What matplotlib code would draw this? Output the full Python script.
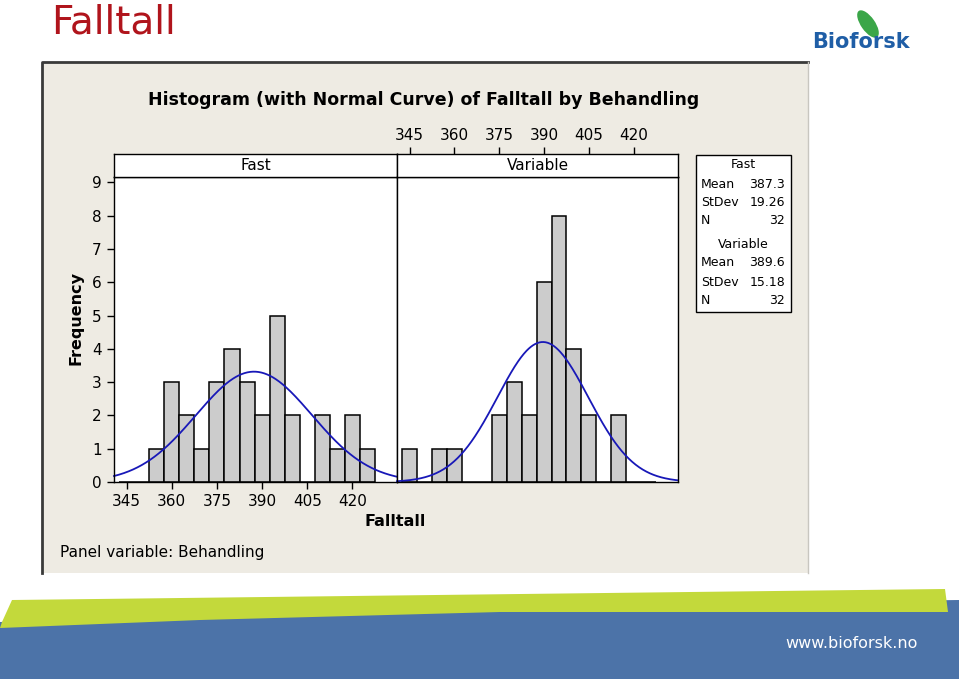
import numpy as np
import matplotlib
matplotlib.use("Agg")
import matplotlib.pyplot as plt
from matplotlib import font_manager
from matplotlib.patches import Rectangle, Polygon, Ellipse

# ---- data ----
bin_centers = [345, 350, 355, 360, 365, 370, 375, 380, 385, 390, 395, 400, 405, 410, 415, 420, 425]
fast_counts = [0, 0, 1, 3, 2, 1, 3, 4, 3, 2, 5, 2, 0, 2, 1, 2, 1]
var_counts = [1, 0, 1, 1, 0, 0, 2, 3, 2, 6, 8, 4, 2, 0, 2, 0, 0]
panels = ["Fast", "Variable"]
means = [387.3, 389.6]
stdevs = [19.26, 15.18]
ns = [32, 32]
x_ticks = [345, 360, 375, 390, 405, 420]
y_ticks = [0, 1, 2, 3, 4, 5, 6, 7, 8, 9]
bin_width = 5

plt.rcParams['font.family'] = ['DejaVu Sans']

W, H = 959, 679
fig = plt.figure(figsize=(W / 100, H / 100), dpi=100)
fig.patch.set_facecolor('white')


def fx(x):
    return x / W


def fy(y):
    return 1 - y / H


def box(x0, y0, x1, y1):
    return [fx(x0), fy(y1), fx(x1) - fx(x0), fy(y0) - fy(y1)]


# ---- slide decorations ----
bg = fig.add_axes([0, 0, 1, 1], zorder=-10)
bg.set_xlim(0, W)
bg.set_ylim(H, 0)
bg.axis('off')
# chart frame
bg.add_patch(Rectangle((42, 62), 766, 511, facecolor='#eeebe3', edgecolor='none'))
bg.plot([42, 42, 808], [573, 62, 62], color='#3a3a3a', lw=2)
bg.plot([808, 808], [62, 573], color='#c8c6c0', lw=1)
# banner
bg.add_patch(Polygon([(0, 622), (200, 615), (500, 606), (959, 600), (959, 679), (0, 679)],
                     closed=True, facecolor='#4c73a8', edgecolor='none'))
bg.add_patch(Polygon([(12, 600), (945, 589), (948, 612), (500, 612), (200, 620), (0, 628), (2, 622)],
                     closed=True, facecolor='#c3d93b', edgecolor='none'))
bg.text(918, 643, 'www.bioforsk.no', color='white', fontsize=11.5, ha='right', va='center')
# title
bg.text(51, 33, 'Falltall', color='#b0141c', fontsize=28, ha='left', va='baseline')
# logo
bg.add_patch(Ellipse((868, 24), 14, 32, angle=-35, facecolor='#3aa648', edgecolor='none'))
bg.text(910, 42, 'Bioforsk', color='#1f5ea6', fontsize=15, fontweight='bold', ha='right',
        va='center')

# ---- chart ----
xlim = (340.8, 434.8)
ylim = (0, 9.17)
left_x = [114, 397]
right_x = [397, 678]
top_y, bot_y, strip_top = 176.7, 482, 154

tick_fs = 11
counts_list = [fast_counts, var_counts]
xs = np.linspace(xlim[0], xlim[1], 400)
for i, (xr, counts) in enumerate(zip([left_x, right_x], counts_list)):
    ax = fig.add_axes(box(xr[0], top_y, xr[1], bot_y))
    ax.set_facecolor('white')
    ax.bar(bin_centers, counts, width=bin_width, facecolor='#cccccc', edgecolor='black',
           linewidth=1.1, align='center')
    curve = ns[i] * bin_width * np.exp(-0.5 * ((xs - means[i]) / stdevs[i]) ** 2) / (stdevs[i] * np.sqrt(2 * np.pi))
    ax.plot(xs, curve, color='#1818b8', lw=1.3, clip_on=False)
    ax.set_xlim(xlim)
    ax.set_ylim(ylim)
    for s in ax.spines.values():
        s.set_linewidth(1.0)
    if i == 0:
        ax.set_yticks(y_ticks)
        ax.set_xticks(x_ticks)
        ax.tick_params(axis='both', direction='out', length=5, width=1, labelsize=tick_fs, pad=4)
    else:
        ax.set_yticks([])
        ax.set_xticks([])

    sax = fig.add_axes(box(xr[0], strip_top, xr[1], top_y))
    sax.set_facecolor('white')
    sax.set_xlim(xlim)
    sax.set_ylim(0, 1)
    sax.set_yticks([])
    sax.text(0.5, 0.5, panels[i], transform=sax.transAxes, ha='center', va='center',
             fontsize=tick_fs)
    for s in sax.spines.values():
        s.set_linewidth(1.0)
    if i == 1:
        sax.xaxis.set_ticks_position('top')
        sax.set_xticks(x_ticks)
        sax.tick_params(axis='x', direction='out', length=5, width=1, labelsize=tick_fs, pad=3,
                        top=True, bottom=False, labeltop=True, labelbottom=False)
    else:
        sax.set_xticks([])

fig.text(fx(424), fy(100), 'Histogram (with Normal Curve) of Falltall by Behandling',
         ha='center', va='center', fontsize=12.5, fontweight='bold')
fig.text(fx(76), fy(318), 'Frequency', rotation=90, ha='center', va='center', fontsize=11.5,
         fontweight='bold')
fig.text(fx(395), fy(522), 'Falltall', ha='center', va='center', fontsize=11.5, fontweight='bold')
fig.text(fx(60), fy(553), 'Panel variable: Behandling', ha='left', va='center', fontsize=11)

# ---- stats box ----
bg.add_patch(Rectangle((696, 155), 95, 157, facecolor='white', edgecolor='black', lw=1.0))
rows = [('Fast', None, 165), ('Mean', f'{means[0]:.1f}', 184), ('StDev', f'{stdevs[0]:.2f}', 203),
        ('N', f'{ns[0]}', 221), ('Variable', None, 244), ('Mean', f'{means[1]:.1f}', 263),
        ('StDev', f'{stdevs[1]:.2f}', 282), ('N', f'{ns[1]}', 301)]
for lab, val, y in rows:
    if val is None:
        bg.text(743.5, y, lab, ha='center', va='center', fontsize=9)
    else:
        bg.text(701, y, lab, ha='left', va='center', fontsize=9)
        bg.text(785, y, val, ha='right', va='center', fontsize=9)

fig.savefig('out.png', dpi=100, facecolor='white')
